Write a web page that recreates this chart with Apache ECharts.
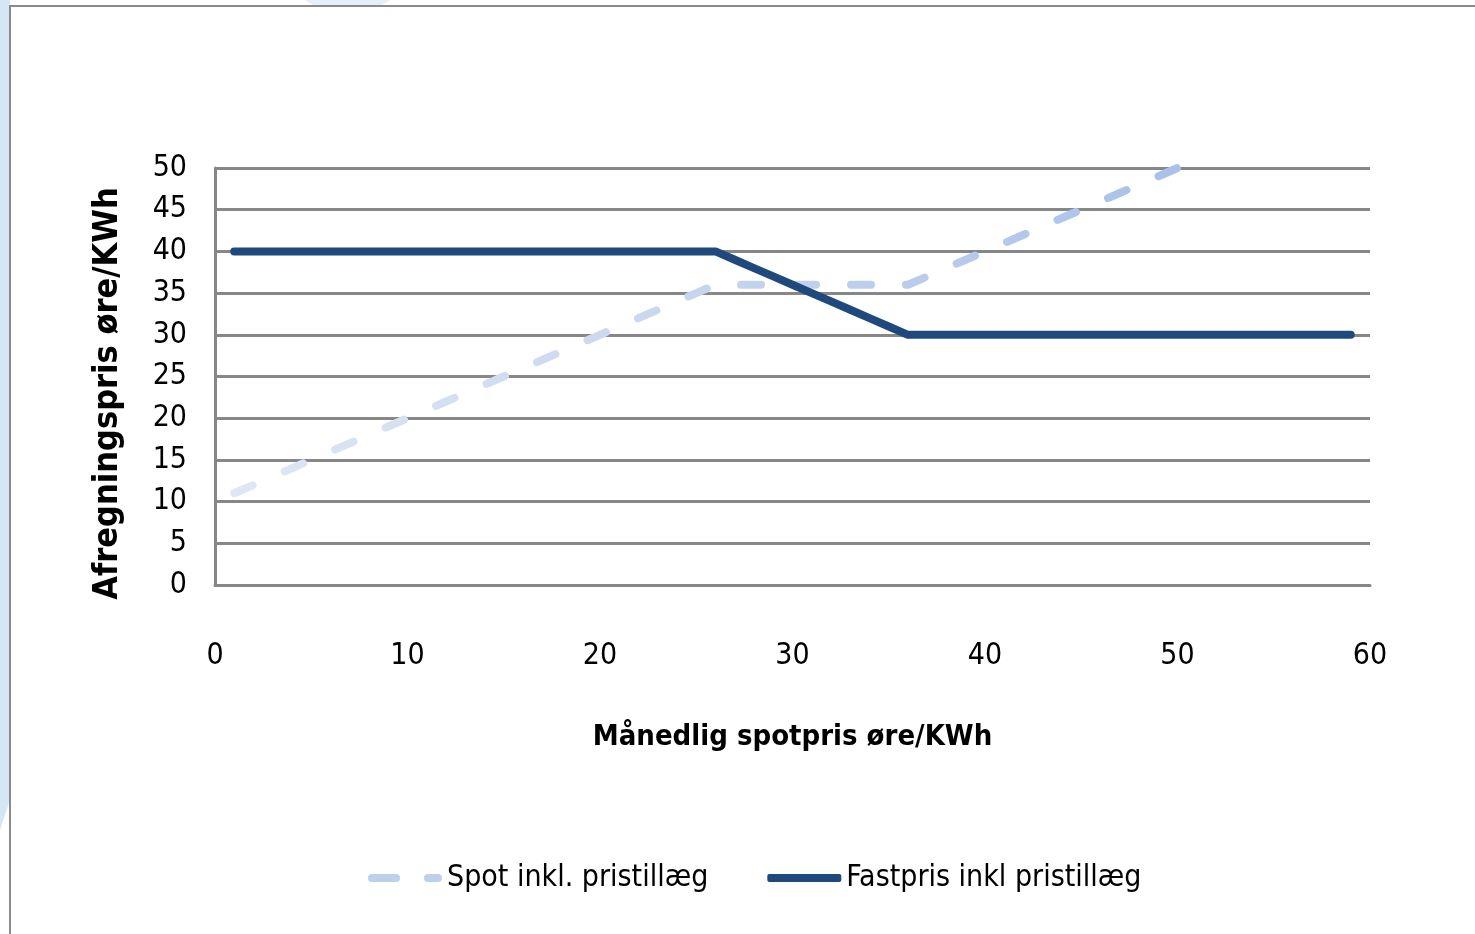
<!DOCTYPE html>
<html>
<head>
<meta charset="utf-8">
<title>Afregningspris</title>
<script src="https://cdn.jsdelivr.net/npm/echarts@6/dist/echarts.min.js"></script>
<style>
  html, body { margin: 0; padding: 0; background: #ffffff; }
  #chart { width: 1475px; height: 934px; }
</style>
</head>
<body>
<div id="chart"></div>
<script>
// Månedlig spotpris (øre/kWh)
const spotX = [1,2,3,4,5,6,7,8,9,10,11,12,13,14,15,16,17,18,19,20,21,22,23,24,25,26,27,28,29,30,31,32,33,34,35,36,37,38,39,40,41,42,43,44,45,46,47,48,49,50];
// Spot inkl. pristillæg
const spotPrice = [11,12,13,14,15,16,17,18,19,20,21,22,23,24,25,26,27,28,29,30,31,32,33,34,35,36,36,36,36,36,36,36,36,36,36,36,37,38,39,40,41,42,43,44,45,46,47,48,49,50];
const fixedX = [1,2,3,4,5,6,7,8,9,10,11,12,13,14,15,16,17,18,19,20,21,22,23,24,25,26,27,28,29,30,31,32,33,34,35,36,37,38,39,40,41,42,43,44,45,46,47,48,49,50,51,52,53,54,55,56,57,58,59];
// Fastpris inkl pristillæg
const fixedPrice = [40,40,40,40,40,40,40,40,40,40,40,40,40,40,40,40,40,40,40,40,40,40,40,40,40,40,39,38,37,36,35,34,33,32,31,30,30,30,30,30,30,30,30,30,30,30,30,30,30,30,30,30,30,30,30,30,30,30,30];
const seriesNames = ['Spot inkl. pristillæg', 'Fastpris inkl pristillæg'];
const xTitle = 'Månedlig spotpris øre/KWh';
const yTitle = 'Afregningspris øre/KWh';

const FONT = '"Liberation Sans Narrow", "DejaVu Sans Condensed", "Noto Sans", sans-serif';
const GRID_GREY = '#878787';

const chart = echarts.init(document.getElementById('chart'), null, { renderer: 'canvas' });

const spotGradient = new echarts.graphic.LinearGradient(0, 0, 1, 0, [
  { offset: 0, color: '#dfe7f4' },
  { offset: 0.5, color: '#c6d5ee' },
  { offset: 1, color: '#a9c1e9' }
]);

chart.setOption({
  backgroundColor: '#ffffff',
  animation: false,
  graphic: [
    { type: 'polygon', silent: true, z: -10,
      shape: { points: [[0, 0], [10, 0], [10, 800], [0, 830]] },
      style: { fill: '#d5e7f5' } },
    { type: 'polygon', silent: true, z: -10,
      shape: { points: [[305, 0], [390, 0], [380, 6], [315, 6]] },
      style: { fill: '#e3eff9' } },
    { type: 'rect', silent: true, z: -5,
      shape: { x: 10, y: 6, width: 1500, height: 1000 },
      style: { fill: '#ffffff', stroke: '#8a8a8a', lineWidth: 2 } }
  ],
  grid: { left: 215, right: 105, top: 168, bottom: 349, containLabel: false },
  xAxis: {
    type: 'value', min: 0, max: 60, interval: 10,
    name: xTitle, nameLocation: 'middle', nameGap: 138,
    nameTextStyle: { fontFamily: FONT, fontSize: 29, fontWeight: 'bold', color: '#000' },
    axisLine: { show: true, lineStyle: { color: GRID_GREY, width: 3 } },
    axisTick: { show: false },
    splitLine: { show: false },
    axisLabel: { margin: 56, fontFamily: FONT, fontSize: 30, color: '#000' }
  },
  yAxis: {
    type: 'value', min: 0, max: 50, interval: 5,
    name: yTitle, nameLocation: 'middle', nameGap: 90, nameRotate: 90,
    nameTextStyle: { fontFamily: FONT, fontSize: 34, fontWeight: 'bold', color: '#000', padding: [0, 34, 0, 0] },
    axisLine: { show: true, lineStyle: { color: GRID_GREY, width: 3 } },
    axisTick: { show: false },
    splitLine: { show: true, lineStyle: { color: GRID_GREY, width: 3 } },
    axisLabel: { margin: 28, fontFamily: FONT, fontSize: 30, color: '#000', padding: [8, 0, 0, 0] }
  },
  legend: {
    bottom: 36, left: 363,
    itemWidth: 74, itemHeight: 8, itemGap: 59,
    textStyle: { fontFamily: FONT, fontSize: 30, color: '#000' },
    data: [
      { name: seriesNames[0], icon: 'path://M4,0h24a4,4 0 0 1 0,8h-24a4,4 0 0 1 0,-8z M60,0h10a4,4 0 0 1 0,8h-10a4,4 0 0 1 0,-8z', itemStyle: { color: '#bccfec' } },
      { name: seriesNames[1], icon: 'roundRect', itemStyle: { color: '#1f497d' } }
    ]
  },
  series: [
    {
      name: seriesNames[0], type: 'line', smooth: false,
      showSymbol: false, symbol: 'none',
      data: spotX.map((x, i) => [x, spotPrice[i]]),
      lineStyle: { color: spotGradient, width: 8, type: [20, 35], cap: 'round', join: 'round' },
      itemStyle: { color: '#bccfec' }
    },
    {
      name: seriesNames[1], type: 'line', smooth: false,
      showSymbol: false, symbol: 'none',
      data: fixedX.map((x, i) => [x, fixedPrice[i]]),
      lineStyle: { color: '#1f497d', width: 8, cap: 'round', join: 'round' },
      itemStyle: { color: '#1f497d' }
    }
  ]
});
</script>
</body>
</html>
